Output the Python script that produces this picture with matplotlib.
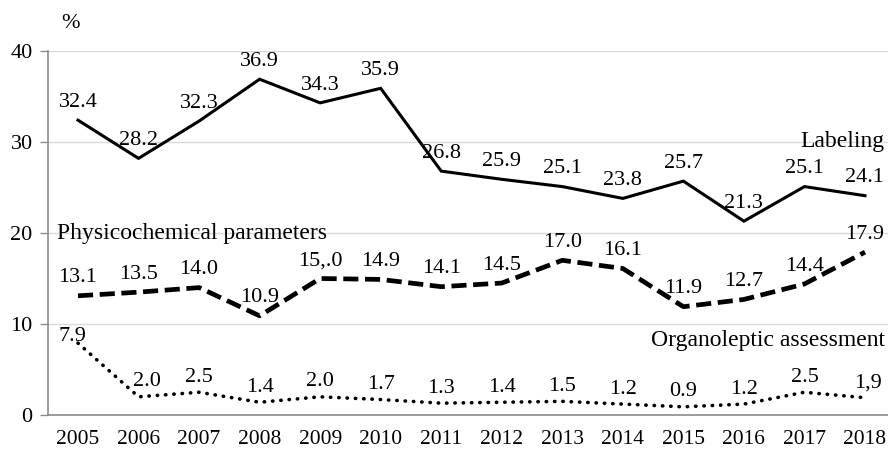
import matplotlib.pyplot as plt

plt.rcParams['font.family'] = ['Liberation Serif', 'DejaVu Serif']

years = [2005, 2006, 2007, 2008, 2009, 2010, 2011, 2012, 2013, 2014, 2015, 2016, 2017, 2018]
labeling = [32.4, 28.2, 32.3, 36.9, 34.3, 35.9, 26.8, 25.9, 25.1, 23.8, 25.7, 21.3, 25.1, 24.1]
physico = [13.1, 13.5, 14.0, 10.9, 15.0, 14.9, 14.1, 14.5, 17.0, 16.1, 11.9, 12.7, 14.4, 17.9]
organo = [7.9, 2.0, 2.5, 1.4, 2.0, 1.7, 1.3, 1.4, 1.5, 1.2, 0.9, 1.2, 2.5, 1.9]

# labels as printed in the source (two have typos)
physico_txt = ['13.1', '13.5', '14.0', '10.9', '15,.0', '14.9', '14.1', '14.5', '17.0', '16.1', '11.9', '12.7', '14.4', '17.9']
organo_txt = ['7.9', '2.0', '2.5', '1.4', '2.0', '1.7', '1.3', '1.4', '1.5', '1.2', '0.9', '1.2', '2.5', '1,9']

fig = plt.figure(figsize=(8.88, 4.5), dpi=100)
ax = fig.add_axes([48 / 888, 35 / 450, 840 / 888, 364 / 450])

x = list(range(len(years)))
ax.plot(x, labeling, color='black', lw=2.2, solid_joinstyle='miter')
ax.plot(x, physico, color='black', lw=3.4, dashes=(3.2, 1.4))
ax.plot(x, organo, color='black', lw=2.6, linestyle=(0, (0.1, 2.2)), dash_capstyle='round')

fs = 16
for i, v in enumerate(labeling):
    ax.annotate(f'{v:.1f}', (i, v), xytext=(0, 6), textcoords='offset points',
                ha='center', va='bottom', fontsize=fs)
for i, v in enumerate(physico):
    ax.annotate(physico_txt[i], (i, v), xytext=(0, 6), textcoords='offset points',
                ha='center', va='bottom', fontsize=fs)
for i, v in enumerate(organo):
    dx, dy = 0, 4
    if i == 0:
        dx, dy = -4, -2
    elif i == 1:
        dx = 6
    elif i == 13:
        dx = 2
    ax.annotate(organo_txt[i], (i, v), xytext=(dx, dy), textcoords='offset points',
                ha='center', va='bottom', fontsize=fs)

ax.text(13.33, 30.1, 'Labeling', ha='right', va='center', fontsize=17)
ax.text(-0.347, 20.0, 'Physicochemical parameters', ha='left', va='center', fontsize=17)
ax.text(13.33, 8.2, 'Organoleptic assessment', ha='right', va='center', fontsize=17)
fig.text(70 / 888, 1 - 24 / 450, '%', ha='center', va='center', fontsize=fs)

ax.set_xlim(-0.4956, 13.38)
ax.set_ylim(0, 40)
ax.set_yticks([0, 10, 20, 30, 40])
ax.set_xticks(x)
ax.set_xticklabels([str(y) for y in years])
ax.tick_params(axis='x', length=0, pad=11, labelsize=15.5)
ax.tick_params(axis='y', length=6, width=1, color='#8c8c8c', pad=5, labelsize=16)
ax.grid(axis='y', color='#d9d9d9', lw=1)
ax.axhline(40, color='#a6a6a6', lw=1.2, zorder=0)
ax.set_axisbelow(True)
for s in ['top', 'right']:
    ax.spines[s].set_visible(False)
for s in ['left', 'bottom']:
    ax.spines[s].set_color('#8c8c8c')
    ax.spines[s].set_linewidth(1.2)

fig.savefig('out.png', dpi=100)
